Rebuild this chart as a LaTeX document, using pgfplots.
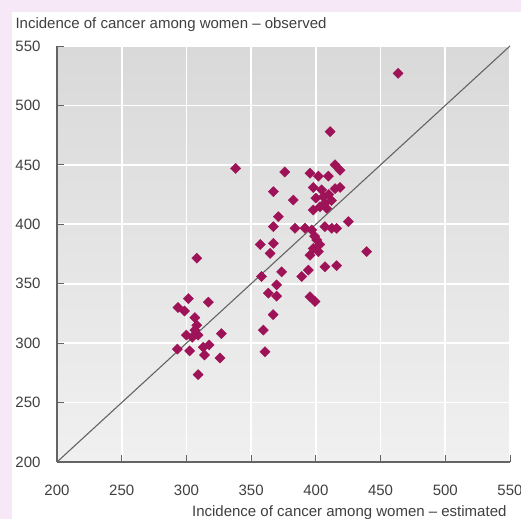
\documentclass[border=0pt]{standalone}
\usepackage{fontspec}
\setmainfont{Liberation Sans}
\usepackage{pgfplots}
\pgfplotsset{compat=1.18}
\definecolor{pinkbg}{RGB}{246,232,246}
\definecolor{dotc}{RGB}{158,18,88}
\definecolor{axgray}{RGB}{100,100,100}
\begin{document}
\begin{tikzpicture}
\useasboundingbox (0,0) rectangle (521bp,519bp);
\clip (0,0) rectangle (521bp,519bp);
\fill[pinkbg] (0,0) rectangle (521bp,519bp);
\fill[white] (12bp,0) rectangle (521bp,507bp);
\begin{axis}[
  at={(57bp,57bp)}, anchor=south west,
  width=453bp, height=416bp, scale only axis,
  xmin=200, xmax=550, ymin=200, ymax=550,
  xtick={200,250,...,550}, ytick={200,250,...,550},
  axis x line*=bottom, axis y line*=left,
  axis line style={axgray, line width=1.2bp},
  tick style={axgray, line width=0.9bp},
  major tick length=7bp,
  tick align=inside,
  grid=major,
  major grid style={white, line width=1.6bp},
  axis background/.style={top color={rgb,255:red,217;green,217;blue,217}, bottom color={rgb,255:red,240;green,240;blue,240}},
  /pgf/number format/assume math mode=true,
  ticklabel style={font=\fontsize{15bp}{18bp}\selectfont, text=black!75},
  xticklabel style={yshift=-20bp},
  yticklabel style={xshift=-13bp},
  every axis y label/.style={at={(rel axis cs:0,1)}, anchor=base west, xshift=-45bp, yshift=17bp, font=\fontsize{15bp}{18bp}\selectfont, text=black!75},
  every axis x label/.style={at={(rel axis cs:1,0)}, anchor=base east, yshift=-54bp, font=\fontsize{15bp}{18bp}\selectfont, text=black!75},
  ylabel={Incidence of cancer among women – observed},
  xlabel={Incidence of cancer among women – estimated},
  clip=false,
]
\addplot[axgray, line width=1.1bp] coordinates {(200,200) (550,550)};
\addplot[only marks, mark=square*, mark size=3.6bp, mark options={rotate=45}, color=dotc] table {
x y
293 295
301.5 337.5
317 334.5
293.5 330
298.5 327
306.5 321.5
308 315
306.5 311
300 306.8
304.5 305
309 306.8
327 308
302.5 293.5
313 296.5
317.5 298.5
314 290
326 287.5
309 273.5
308 371.5
338 447
358 356
363.3 342
367 324
359.4 311
360.7 292.8
369.7 349
369.7 339.5
367.2 427.4
371 406.4
367.2 398
367.2 384
364.6 375.5
357 383
373.6 360
411 478
376 444
395.5 443
402 440.5
409.7 440.5
414.8 450
418.7 445.5
398 431
404.5 429
414.8 430
418.7 431
405.8 423
410 425
412 420
400 422
407 417.6
403.2 414.8
408.4 413.4
398 412
382.6 420.4
383.9 396.6
391.6 396.6
396.8 395.2
407 398
412.3 396.6
416.1 396.6
425.1 402.2
400.7 386.8
399 390
403 383
398 379.7
402 377
395.5 374
439.3 377
394.2 361.5
407.1 364.3
416.1 365.2
389.1 356
395.5 339
399.4 335
463.5 527
};
\end{axis}
\end{tikzpicture}
\end{document}
